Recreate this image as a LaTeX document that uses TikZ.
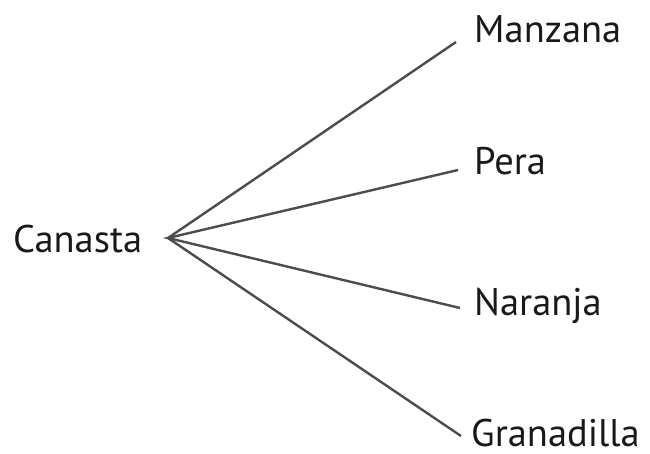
\documentclass[tikz,border=0pt]{standalone}
\usepackage{fontspec}
\setmainfont{PT Sans}
\begin{document}
\begin{tikzpicture}[x=1pt,y=-1pt,
  lbl/.style={inner sep=0pt,anchor=base west,text=black!90,font=\fontsize{38.5}{46}\selectfont},
  branch/.style={draw=black!70,line width=2.4pt}]
\useasboundingbox (0,0) rectangle (650,454);
\node[lbl] (can) at (13,252) {Canasta};
\node[lbl] (man) at (474,43) {Manzana};
\node[lbl] (per) at (474,175) {Pera};
\node[lbl] (nar) at (474,315) {Naranja};
\node[lbl] (gra) at (471,446) {Granadilla};
\coordinate (hub) at (168,238);
\coordinate (eman) at (456,42);
\coordinate (eper) at (458,170);
\coordinate (enar) at (460,308);
\coordinate (egra) at (461,436);
\draw[branch] (eman) -- (hub) -- (egra);
\draw[branch] (eper) -- (hub) -- (enar);
\end{tikzpicture}
\end{document}
